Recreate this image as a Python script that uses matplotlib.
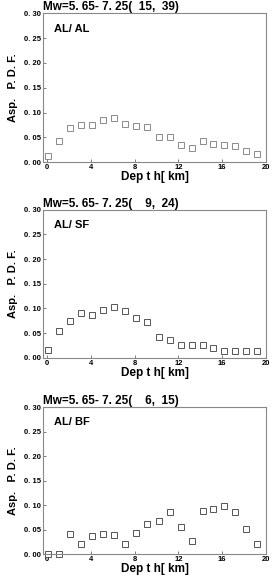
import matplotlib
matplotlib.use('Agg')
import matplotlib.pyplot as plt

plt.rcParams['font.family'] = ['Liberation Sans', 'DejaVu Sans']
plt.rcParams['font.weight'] = 'bold'

# profondidade dos centros das classes
depth = [0.1, 1.1, 2.1, 3.1, 4.1, 5.1, 6.1, 7.1, 8.1, 9.1,
         10.2, 11.2, 12.2, 13.2, 14.2, 15.2, 16.2, 17.2, 18.2, 19.2]

pdf_al = [0.013, 0.042, 0.068, 0.075, 0.075, 0.085, 0.089, 0.077, 0.072, 0.070,
          0.050, 0.050, 0.034, 0.028, 0.042, 0.037, 0.035, 0.032, 0.023, 0.016]
pdf_sf = [0.0155, 0.054, 0.075, 0.090, 0.086, 0.096, 0.103, 0.094, 0.080, 0.072,
          0.042, 0.037, 0.026, 0.026, 0.026, 0.020, 0.014, 0.013, 0.013, 0.013]
pdf_bf = [0.0, 0.0, 0.042, 0.021, 0.037, 0.042, 0.039, 0.021, 0.043, 0.062,
          0.068, 0.086, 0.056, 0.027, 0.088, 0.092, 0.099, 0.086, 0.052, 0.020]

titulos = ['Mw=5. 65- 7. 25(  15,  39)', 'Mw=5. 65- 7. 25(    9,  24)', 'Mw=5. 65- 7. 25(    6,  15)']
rotulos = ['AL/ AL', 'AL/ SF', 'AL/ BF']
series = [pdf_al, pdf_sf, pdf_bf]
cores = ['#8a8a8a', '#555555', '#555555']

y_ticks = [0.0, 0.05, 0.10, 0.15, 0.20, 0.25, 0.30]
y_labels = ['0. 00', '0. 05', '0. 10', '0. 15', '0. 20', '0. 25', '0. 30']
x_ticks = [0, 4, 8, 12, 16, 20]

posicoes = [[0.155, 0.720, 0.802, 0.257],
            [0.155, 0.382, 0.802, 0.256],
            [0.155, 0.043, 0.802, 0.254]]

fig = plt.figure(figsize=(2.78, 5.79), dpi=100)

for pos, valores, titulo, rotulo, cor in zip(posicoes, series, titulos, rotulos, cores):
    ax = fig.add_axes(pos)
    ax.plot(depth, valores, linestyle='none', marker='s', markersize=5,
            markerfacecolor='white', markeredgecolor=cor, markeredgewidth=0.7,
            clip_on=False)
    ax.set_xlim(-0.36, 20)
    ax.set_ylim(0, 0.30)
    ax.set_yticks(y_ticks)
    ax.set_yticklabels(y_labels)
    ax.set_xticks(x_ticks)
    ax.tick_params(labelsize=5.5, length=2.5, width=0.6, color='#666666',
                   direction='in', pad=1.5)
    for s in ax.spines.values():
        s.set_color('#888888')
        s.set_linewidth(0.8)
    ax.set_xlabel('Dep t h[ km]', fontsize=8.5, fontweight='bold', labelpad=0)
    ax.set_ylabel('Asp.   P. D. F.', fontsize=8, fontweight='bold', labelpad=4)
    ax.set_title(titulo, fontsize=8.5, fontweight='bold', loc='left', pad=1)
    ax.text(0.05, 0.93, rotulo, transform=ax.transAxes, fontsize=8,
            fontweight='bold', va='top', ha='left')

fig.savefig('out.png', dpi=100)
